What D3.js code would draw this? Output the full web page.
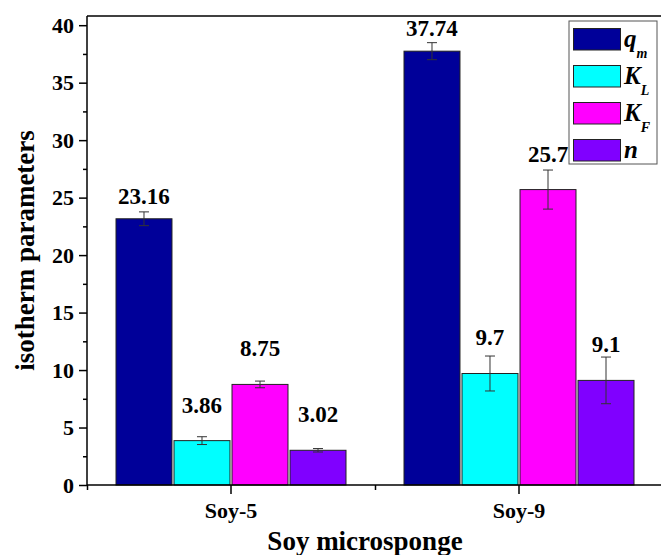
<!DOCTYPE html>
<html>
<head>
<meta charset="utf-8">
<script src="https://cdn.jsdelivr.net/npm/d3@7"></script>
<style>
  body { margin: 0; background: #fff; }
  svg { display: block; }
  svg text { font-family: "Liberation Serif", "Times New Roman", "DejaVu Serif", serif !important; font-weight: bold; }
</style>
</head>
<body>
<div id="chart"></div>
<script>
// data
const categories = ["Soy-5", "Soy-9"];
const seriesKeys = ["qm", "KL", "KF", "n"];
const seriesMain = ["q", "K", "K", "n"];
const seriesSub = ["m", "L", "F", ""];
const colors = ["#000099", "#00FFFF", "#FF00FF", "#8000FF"];
const values = {
  qm: [23.16, 37.74],
  KL: [3.86, 9.7],
  KF: [8.75, 25.7],
  n: [3.02, 9.1]
};
const errors = {
  qm: [0.6, 0.74],
  KL: [0.34, 1.52],
  KF: [0.29, 1.7],
  n: [0.15, 2.03]
};
const labels = {
  qm: ["23.16", "37.74"],
  KL: ["3.86", "9.7"],
  KF: ["8.75", "25.7"],
  n: ["3.02", "9.1"]
};
const yTicks = [0, 5, 10, 15, 20, 25, 30, 35, 40];

const width = 661, height = 555;
const margin = {top: 16, right: -2, bottom: 70, left: 87};

const svg = d3.select("#chart").append("svg").attr("width", width).attr("height", height);
svg.append("rect").attr("width", width).attr("height", height).attr("fill", "#fff");

const x0 = d3.scaleBand().domain(categories).range([margin.left, width - margin.right]).padding(0);
const x1 = d3.scaleBand().domain(seriesKeys).range([29, 259]).paddingInner(0.035);
const y = d3.scaleLinear().domain([0, 40.8]).range([height - margin.bottom, margin.top]);
const color = d3.scaleOrdinal().domain(seriesKeys).range(colors);

const rows = [];
categories.forEach((c, i) => {
  seriesKeys.forEach(k => {
    rows.push({cat: c, key: k, value: values[k][i], err: errors[k][i], label: labels[k][i]});
  });
});

// bars
svg.append("g").selectAll("rect").data(rows).enter().append("rect")
  .attr("x", d => x0(d.cat) + x1(d.key))
  .attr("y", d => y(d.value))
  .attr("width", x1.bandwidth())
  .attr("height", d => y(0) - y(d.value))
  .attr("fill", d => color(d.key))
  .attr("stroke", "#222")
  .attr("stroke-width", 1);

// error bars
const eb = svg.append("g").attr("stroke", "#333").attr("stroke-width", 1);
rows.forEach(d => {
  const cx = x0(d.cat) + x1(d.key) + x1.bandwidth() / 2;
  eb.append("line").attr("x1", cx).attr("x2", cx).attr("y1", y(d.value + d.err)).attr("y2", y(d.value - d.err));
  eb.append("line").attr("x1", cx - 5).attr("x2", cx + 5).attr("y1", y(d.value + d.err)).attr("y2", y(d.value + d.err));
  eb.append("line").attr("x1", cx - 5).attr("x2", cx + 5).attr("y1", y(d.value - d.err)).attr("y2", y(d.value - d.err));
});

// value labels
svg.append("g").selectAll("text").data(rows).enter().append("text")
  .attr("x", d => x0(d.cat) + x1(d.key) + x1.bandwidth() / 2)
  .attr("y", d => y(d.value) - (d.key === "qm" ? 15 : 28))
  .attr("text-anchor", "middle")
  .attr("font-size", "23px")
  .attr("fill", "#000")
  .text(d => d.label);

// y axis
const yAxis = svg.append("g").attr("transform", `translate(${margin.left},0)`)
  .call(d3.axisLeft(y).tickValues(yTicks).tickSize(8).tickPadding(5));
svg.append("g").attr("transform", `translate(${margin.left},0)`)
  .call(d3.axisLeft(y).tickValues(yTicks.slice(0, -1).map(v => v + 2.5)).tickSize(4).tickFormat(""))
  .select(".domain").remove();

// x axis
const xAxis = svg.append("g").attr("transform", `translate(0,${y(0)})`)
  .call(d3.axisBottom(x0).tickSize(9).tickPadding(8));
svg.append("g").attr("transform", `translate(0,${y(0)})`)
  .call(d3.axisBottom(d3.scaleLinear().domain([0, 2]).range([margin.left, x0(categories[1]) + x0.bandwidth()]))
    .tickValues([0, 1, 2]).tickSize(5).tickFormat(""))
  .select(".domain").remove();

svg.selectAll(".domain, .tick line").attr("stroke", "#000").attr("stroke-width", 1.5);
svg.selectAll(".tick text").attr("font-size", "22px").attr("fill", "#000");
xAxis.select(".domain").attr("d", `M${margin.left},0H${width + 5}`);
yAxis.select(".domain").attr("d", `M0,${y(0)}V${margin.top}`);

// top frame
svg.append("line").attr("x1", margin.left).attr("x2", width + 5)
  .attr("y1", margin.top).attr("y2", margin.top).attr("stroke", "#000").attr("stroke-width", 1.5);

// axis titles
svg.append("text").attr("transform", `translate(34,${(y(0) + margin.top) / 2}) rotate(-90)`)
  .attr("text-anchor", "middle").attr("font-size", "27px").attr("fill", "#000")
  .text("isotherm parameters");
svg.append("text").attr("x", (margin.left + width) / 2 - 9).attr("y", 550)
  .attr("text-anchor", "middle").attr("font-size", "27px").attr("fill", "#000")
  .text("Soy microsponge");

// legend
const legend = svg.append("g").attr("transform", "translate(569,21)");
legend.append("rect").attr("width", 88).attr("height", 143)
  .attr("fill", "#fff").attr("stroke", "#555").attr("stroke-width", 1);
seriesKeys.forEach((k, i) => {
  legend.append("rect").attr("x", 4.5).attr("y", 7.5 + i * 37).attr("width", 47).attr("height", 21.5)
    .attr("fill", colors[i]).attr("stroke", "#222").attr("stroke-width", 1);
  const t = legend.append("text").attr("x", 55).attr("y", 26 + i * 37)
    .attr("font-size", "25px").attr("font-style", "italic").attr("fill", "#000");
  t.append("tspan").text(seriesMain[i]);
  if (seriesSub[i]) {
    t.append("tspan").attr("font-size", "14px").attr("dy", 11).text(seriesSub[i]);
  }
});
</script>
</body>
</html>
